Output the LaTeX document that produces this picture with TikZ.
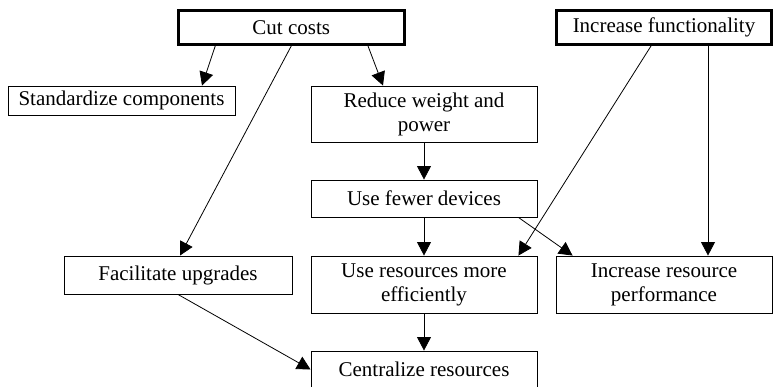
\documentclass[tikz,border=0pt]{standalone}
\usepackage{fontspec}
\setmainfont{Liberation Serif}
\usetikzlibrary{arrows.meta}

\begin{document}
\begin{tikzpicture}[x=1pt,y=-1pt,
  box/.style={draw, line width=0.9pt, inner sep=0pt, align=center,
    font=\fontsize{21}{24}\selectfont},
  goal/.style={box, line width=3pt},
  arr/.style={draw, line width=0.8pt, -{Triangle[length=13.5pt,width=14pt]}}]
\path[clip] (0,0) rectangle (774,387);
\useasboundingbox (0,0) rectangle (774,387);

% top-level goals
\node[goal, minimum width=225.5pt, minimum height=34pt] (cut) at (291.25,27.5) {Cut costs};
\node[goal, minimum width=215pt, minimum height=34pt] (incf) at (664,27.5) {Increase functionality};

% derived objectives
\node[box, minimum width=227pt, minimum height=29pt] (std) at (121.5,100.5) {Standardize components};
\node[box, minimum width=226pt, minimum height=56pt] (red) at (424,114) {Reduce weight and\\power};
\node[box, minimum width=226pt, minimum height=37pt] (few) at (424,198.5) {Use fewer devices};
\node[box, minimum width=228pt, minimum height=38pt] (fac) at (178,275) {Facilitate upgrades};
\node[box, minimum width=226pt, minimum height=57pt] (ures) at (424,284.5) {Use resources more\\efficiently};
\node[box, minimum width=216pt, minimum height=57pt] (irp) at (664,284.5) {Increase resource\\performance};
\node[box, minimum width=226pt, minimum height=37pt] (cen) at (424,369.5) {Centralize resources};

% connectors
\draw[arr] ([xshift=-76pt]cut.south) -- ([xshift=80.5pt]std.north);
\draw[arr] ([xshift=76.75pt]cut.south) -- ([xshift=-41pt]red.north);
\draw[arr] (cut.south) -- ([xshift=2pt]fac.north);
\draw[arr] ([xshift=-13pt]incf.south) -- ([xshift=-19pt]ures.north east);
\draw[arr] ([xshift=44pt]incf.south) -- ([xshift=44pt]irp.north);
\draw[arr] (red.south) -- (few.north);
\draw[arr] (few.south) -- (ures.north);
\draw[arr] ([xshift=-19pt]few.south east) -- ([xshift=17pt]irp.north west);
\draw[arr] (ures.south) -- (cen.north);
\draw[arr] (fac.south) -- (cen.west);
\end{tikzpicture}
\end{document}
